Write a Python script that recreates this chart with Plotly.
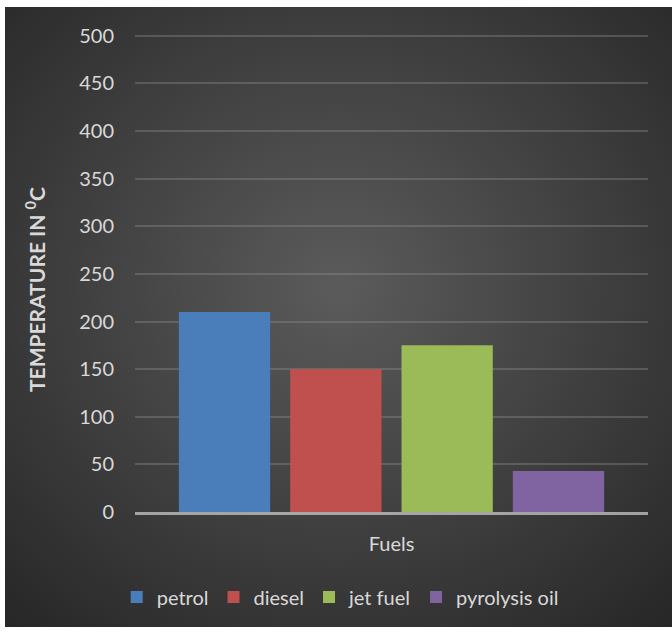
import plotly.graph_objects as go
import base64

categories = ["Fuels"]
series_names = ["petrol", "diesel", "jet fuel", "pyrolysis oil"]
series_values = [210, 150, 175, 43]
series_colors = ["#4a7ebb", "#c0504d", "#9bbb59", "#8064a2"]
y_ticks = [0, 50, 100, 150, 200, 250, 300, 350, 400, 450, 500]
y_title = "<b>TEMPERATURE IN <sup>0</sup>C</b>"

svg = ('<svg xmlns="http://www.w3.org/2000/svg" width="667" height="620" viewBox="0 0 667 620" preserveAspectRatio="none">'
       '<defs><radialGradient id="g" cx="50%" cy="45%" r="75%">'
       '<stop offset="0%" stop-color="#5b5b5b"/><stop offset="100%" stop-color="#262626"/>'
       '</radialGradient></defs><rect width="667" height="620" fill="url(#g)"/></svg>')
bg_src = "data:image/svg+xml;base64," + base64.b64encode(svg.encode()).decode()

fig = go.Figure()
for name, val, col in zip(series_names, series_values, series_colors):
    fig.add_trace(go.Bar(x=categories, y=[val], name=name,
                         marker=dict(color=col, line=dict(width=0))))

L, R, T, B = 135, 24, 31, 120
W, H = 672, 632
pw, ph = W - L - R, H - T - B
fig.add_layout_image(dict(source=bg_src, xref="paper", yref="paper",
                          x=(5 - L) / pw, y=(H - B - 7) / ph,
                          sizex=667 / pw, sizey=620 / ph,
                          sizing="stretch", xanchor="left", yanchor="top",
                          layer="below"))

fig.add_annotation(text=y_title, textangle=-90, xref="paper", yref="paper",
                   x=(35 - L) / pw, y=(H - B - 290) / ph, xanchor="center", yanchor="middle",
                   showarrow=False, font=dict(size=21, color="#d9d9d9", family="Lato"))

fig.update_layout(
    width=W, height=H,
    margin=dict(l=L, r=R, t=T, b=B),
    paper_bgcolor="white",
    plot_bgcolor="rgba(0,0,0,0)",
    barmode="group", bargap=0.132, bargroupgap=0.18,
    font=dict(family="Lato", size=20, color="#d9d9d9"),
    showlegend=True,
    legend=dict(orientation="h", x=0.40, xanchor="center", y=(H - B - 597) / ph, yanchor="middle",
                font=dict(size=20, color="#d9d9d9"), bgcolor="rgba(0,0,0,0)",
                itemwidth=30, tracegroupgap=0),
    xaxis=dict(showgrid=False, showline=True, linecolor="rgba(200,200,200,0.75)",
               linewidth=3, layer="above traces", ticks="", ticklabelstandoff=12,
               tickfont=dict(size=20, color="#d9d9d9")),
    yaxis=dict(range=[0, 505], tickvals=y_ticks, showgrid=True,
               gridcolor="rgba(150,150,150,0.35)", gridwidth=2, zeroline=False,
               ticks="", ticklabelstandoff=20, tickfont=dict(size=20, color="#d9d9d9")),
)

fig.write_html("out.html")
